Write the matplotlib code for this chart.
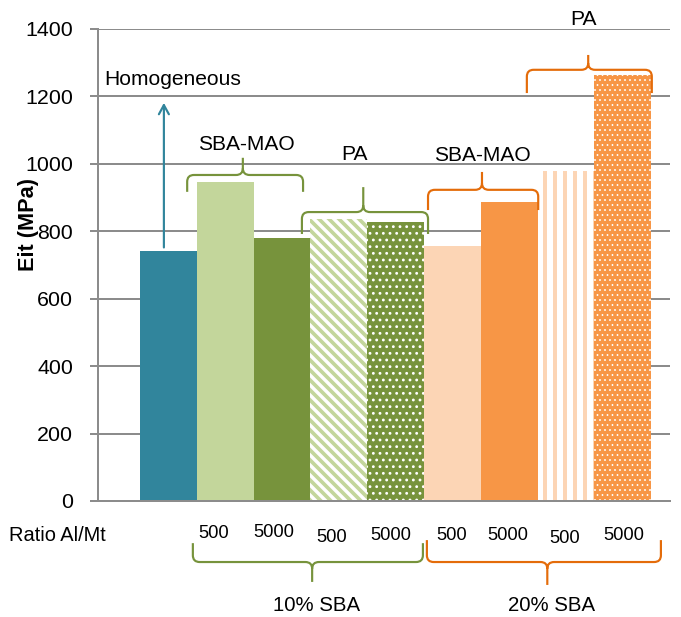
import numpy as np
import matplotlib.pyplot as plt
from matplotlib.path import Path
from matplotlib.patches import PathPatch

# Eit values (MPa)
samples = ['Homogeneous', '10% SBA-MAO 500', '10% SBA-MAO 5000', '10% PA 500', '10% PA 5000',
           '20% SBA-MAO 500', '20% SBA-MAO 5000', '20% PA 500', '20% PA 5000']
eit = [742, 947, 780, 837, 829, 756, 887, 979, 1264]
ratio_labels = ['500', '5000', '500', '5000', '500', '5000', '500', '5000']
yticks = [0, 200, 400, 600, 800, 1000, 1200, 1400]

teal = '#31859C'
light_green = '#C3D69B'
olive = '#77933C'
peach = '#FCD5B5'
orange = '#F79646'
dark_orange = '#E46C0A'
grid_gray = '#8C8C8C'

# face, hatch colour, hatch, hatch linewidth
styles = [
    (teal, teal, None, 1.0),
    (light_green, light_green, None, 1.0),
    (olive, olive, None, 1.0),
    ('white', light_green, '\\\\\\\\', 2.2),
    (olive, 'white', '...', 0.9),
    (peach, peach, None, 1.0),
    (orange, orange, None, 1.0),
    ('white', peach, '||', 2.4),
    (orange, 'white', '....', 0.5),
]

plt.rcParams['font.family'] = ['Liberation Sans', 'DejaVu Sans']

fig = plt.figure(figsize=(681 / 120, 617 / 120), dpi=120)
ax = fig.add_axes([98 / 681, 116 / 617, 572 / 681, 472 / 617])

x = np.arange(len(eit))
for i, (val, (face, hc, hatch, hlw)) in enumerate(zip(eit, styles)):
    with plt.rc_context({'hatch.linewidth': hlw}):
        bar = ax.bar(x[i], val, width=1.0, color=face, edgecolor=hc, linewidth=0,
                     hatch=hatch, zorder=2)[0]
    if hasattr(bar, 'set_hatch_linewidth'):
        bar.set_hatch_linewidth(hlw)

ax.set_xlim(-1.24, 8.83)
ax.set_ylim(0, 1400)
ax.set_yticks(yticks)
ax.set_xticks([])
ax.set_axisbelow(True)
ax.grid(axis='y', color=grid_gray, linewidth=1.2)
for s in ['top', 'right']:
    ax.spines[s].set_visible(False)
for s in ['left', 'bottom']:
    ax.spines[s].set_color(grid_gray)
    ax.spines[s].set_linewidth(1.2)
ax.tick_params(axis='y', length=4.8, width=1.2, color=grid_gray, pad=10, labelsize=12.8)

ax.set_ylabel('Eit (MPa)', fontsize=13, fontweight='bold')
ax.yaxis.set_label_coords(-0.104, 0.585)


def brace(x0, x1, xm, y_end, y_mid, y_tip, color):
    # curly bracket in data coordinates
    rx = 0.12
    ry = 20 if y_tip > y_mid else -20
    verts = [(x0, y_end), (x0, y_mid - ry), (x0, y_mid), (x0 + rx, y_mid),
             (xm - rx, y_mid), (xm, y_mid), (xm, y_mid + ry), (xm, y_tip),
             (xm, y_mid + ry), (xm, y_mid), (xm + rx, y_mid),
             (x1 - rx, y_mid), (x1, y_mid), (x1, y_mid - ry), (x1, y_end)]
    codes = [Path.MOVETO, Path.LINETO, Path.CURVE3, Path.CURVE3,
             Path.LINETO, Path.CURVE3, Path.CURVE3, Path.LINETO,
             Path.MOVETO, Path.CURVE3, Path.CURVE3,
             Path.LINETO, Path.CURVE3, Path.CURVE3, Path.LINETO]
    ax.add_patch(PathPatch(Path(verts, codes), fill=False, edgecolor=color,
                           linewidth=1.3, clip_on=False, zorder=4))


# group braces above bars
brace(0.33, 2.37, 1.31, 917, 967, 1018, olive)
brace(2.35, 4.57, 3.43, 792, 857, 931, olive)
brace(4.57, 6.51, 5.52, 863, 923, 976, dark_orange)
brace(6.31, 8.51, 7.39, 1210, 1279, 1323, dark_orange)

# braces below the axis
brace(0.43, 4.48, 2.53, -125, -181, -240, olive)
brace(4.55, 8.67, 6.67, -116, -181, -249, dark_orange)

fs = 12.6
ax.text(0.08, 1249, 'Homogeneous', ha='center', va='center', fontsize=fs)
ax.text(1.38, 1056, 'SBA-MAO', ha='center', va='center', fontsize=fs)
ax.text(3.27, 1029, 'PA', ha='center', va='center', fontsize=fs)
ax.text(5.52, 1026, 'SBA-MAO', ha='center', va='center', fontsize=fs)
ax.text(7.3, 1427, 'PA', ha='center', va='center', fontsize=fs)

ax.annotate('', xy=(-0.08, 1181), xytext=(-0.08, 752),
            arrowprops=dict(arrowstyle='->,head_length=0.55,head_width=0.3',
                            color=teal, lw=1.3, shrinkA=0, shrinkB=0))

# Al/Mt ratio labels under the bars
label_x = [0.80, 1.86, 2.88, 3.92, 4.98, 5.98, 6.97, 8.02]
label_y = [-95, -92, -107, -101, -101, -101, -110, -101]
for lx, ly, lab in zip(label_x, label_y, ratio_labels):
    ax.text(lx, ly, lab, ha='center', va='center', fontsize=11)
ax.text(-1.96, -101, 'Ratio Al/Mt', ha='center', va='center', fontsize=12)
ax.text(2.61, -309, '10% SBA', ha='center', va='center', fontsize=12.2)
ax.text(6.75, -309, '20% SBA', ha='center', va='center', fontsize=12.2)

fig.savefig('out.png', dpi=120)
